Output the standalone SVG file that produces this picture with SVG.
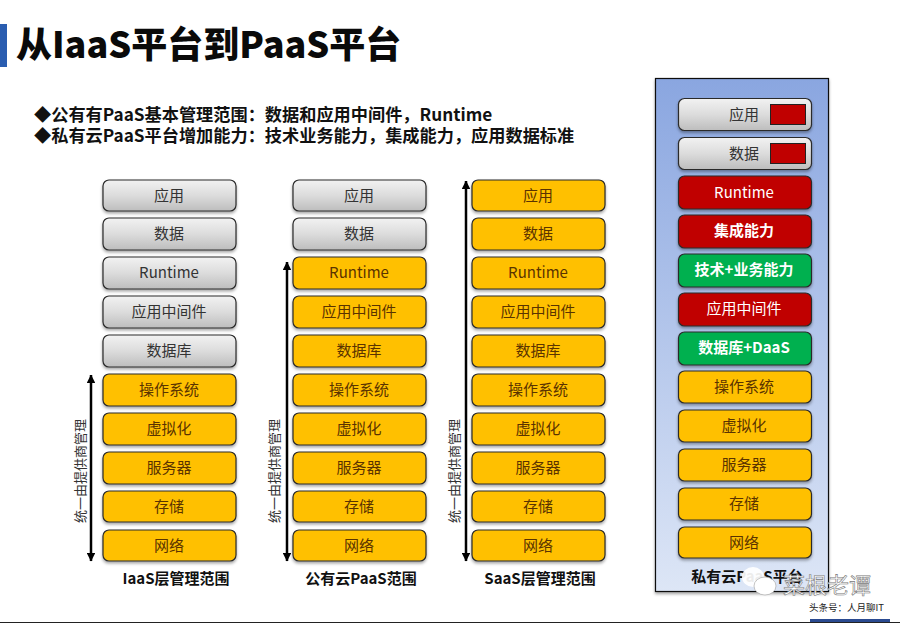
<svg xmlns="http://www.w3.org/2000/svg" width="900" height="623" viewBox="0 0 900 623">
<defs>
<linearGradient id="gGray" x1="0" y1="0" x2="0" y2="1"><stop offset="0" stop-color="#f2f2f2"/><stop offset="0.5" stop-color="#dcdcdc"/><stop offset="1" stop-color="#bdbdbd"/></linearGradient>
<linearGradient id="gPanel" x1="0" y1="0" x2="0" y2="1"><stop offset="0" stop-color="#8aa6e0"/><stop offset="1" stop-color="#dde6f6"/></linearGradient>
<filter id="sh" x="-10%" y="-10%" width="120%" height="130%"><feDropShadow dx="0" dy="2" stdDeviation="1.5" flood-color="#000" flood-opacity="0.35"/></filter>
<marker id="ah" markerWidth="3.4" markerHeight="3.4" refX="3.2" refY="1.7" orient="auto-start-reverse"><path d="M0 0L3.4 1.7L0 3.4Z" fill="#000"/></marker>
<style>
text{font-family:"Noto Sans CJK SC","Liberation Sans",sans-serif}
.b{stroke:#2a2a2a;stroke-width:1.2;filter:url(#sh)}
.o{fill:#ffc000}
.g{fill:url(#gGray)}
.r{fill:#c00000}
.v{fill:#00b050}
.t{font-size:15px;text-anchor:middle;fill:#333}
.to{fill:#5a3300}
.tw{fill:#fff}
.tb{font-weight:700}
.cap{font-size:15px;font-weight:700;text-anchor:middle;fill:#111}
.side{font-size:13px;text-anchor:middle;fill:#333}
.hd{font-size:17.2px;font-weight:700;fill:#111}
.sw{fill:#c00000;stroke:#222;stroke-width:1}
.ar{stroke:#000;stroke-width:2.5;fill:none;marker-start:url(#ah);marker-end:url(#ah)}
</style>
</defs>
<rect width="900" height="623" fill="#fff"/>
<rect id="title-bar" x="0" y="24" width="7" height="43" fill="#2a5db0"/>
<text id="title" x="16" y="58" font-size="36" font-weight="900" fill="#0a0a0a">从IaaS平台到PaaS平台</text>
<text class="hd" x="34" y="121">◆公有有PaaS基本管理范围：数据和应用中间件，Runtime</text>
<text class="hd" x="34" y="142">◆私有云PaaS平台增加能力：技术业务能力，集成能力，应用数据标准</text>

<g id="iaas">
<g id="i1"><rect class="b g" x="103" y="180" width="133" height="31" rx="6"/><text class="t" x="169" y="201">应用</text></g>
<g id="i2"><rect class="b g" x="103" y="218" width="133" height="32" rx="6"/><text class="t" x="169" y="239">数据</text></g>
<g id="i3"><rect class="b g" x="103" y="257" width="133" height="32" rx="6"/><text class="t" x="169" y="278">Runtime</text></g>
<g id="i4"><rect class="b g" x="103" y="296" width="133" height="32" rx="6"/><text class="t" x="169" y="317">应用中间件</text></g>
<g id="i5"><rect class="b g" x="103" y="335" width="133" height="32" rx="6"/><text class="t" x="169" y="356">数据库</text></g>
<g id="i6"><rect class="b o" x="103" y="374" width="133" height="32" rx="6"/><text class="t to" x="169" y="395">操作系统</text></g>
<g id="i7"><rect class="b o" x="103" y="413" width="133" height="32" rx="6"/><text class="t to" x="169" y="434">虚拟化</text></g>
<g id="i8"><rect class="b o" x="103" y="452" width="133" height="32" rx="6"/><text class="t to" x="169" y="473">服务器</text></g>
<g id="i9"><rect class="b o" x="103" y="491" width="133" height="31" rx="6"/><text class="t to" x="169" y="512">存储</text></g>
<g id="i10"><rect class="b o" x="103" y="530" width="133" height="31" rx="6"/><text class="t to" x="169" y="551">网络</text></g>
</g>
<g id="public">
<g id="p1"><rect class="b g" x="293" y="180" width="133" height="31" rx="6"/><text class="t" x="359" y="201">应用</text></g>
<g id="p2"><rect class="b g" x="293" y="218" width="133" height="32" rx="6"/><text class="t" x="359" y="239">数据</text></g>
<g id="p3"><rect class="b o" x="293" y="257" width="133" height="32" rx="6"/><text class="t to" x="359" y="278">Runtime</text></g>
<g id="p4"><rect class="b o" x="293" y="296" width="133" height="32" rx="6"/><text class="t to" x="359" y="317">应用中间件</text></g>
<g id="p5"><rect class="b o" x="293" y="335" width="133" height="32" rx="6"/><text class="t to" x="359" y="356">数据库</text></g>
<g id="p6"><rect class="b o" x="293" y="374" width="133" height="32" rx="6"/><text class="t to" x="359" y="395">操作系统</text></g>
<g id="p7"><rect class="b o" x="293" y="413" width="133" height="32" rx="6"/><text class="t to" x="359" y="434">虚拟化</text></g>
<g id="p8"><rect class="b o" x="293" y="452" width="133" height="32" rx="6"/><text class="t to" x="359" y="473">服务器</text></g>
<g id="p9"><rect class="b o" x="293" y="491" width="133" height="31" rx="6"/><text class="t to" x="359" y="512">存储</text></g>
<g id="p10"><rect class="b o" x="293" y="530" width="133" height="31" rx="6"/><text class="t to" x="359" y="551">网络</text></g>
</g>
<g id="saas">
<g id="s1"><rect class="b o" x="472" y="180" width="133" height="31" rx="6"/><text class="t to" x="538" y="201">应用</text></g>
<g id="s2"><rect class="b o" x="472" y="218" width="133" height="32" rx="6"/><text class="t to" x="538" y="239">数据</text></g>
<g id="s3"><rect class="b o" x="472" y="257" width="133" height="32" rx="6"/><text class="t to" x="538" y="278">Runtime</text></g>
<g id="s4"><rect class="b o" x="472" y="296" width="133" height="32" rx="6"/><text class="t to" x="538" y="317">应用中间件</text></g>
<g id="s5"><rect class="b o" x="472" y="335" width="133" height="32" rx="6"/><text class="t to" x="538" y="356">数据库</text></g>
<g id="s6"><rect class="b o" x="472" y="374" width="133" height="32" rx="6"/><text class="t to" x="538" y="395">操作系统</text></g>
<g id="s7"><rect class="b o" x="472" y="413" width="133" height="32" rx="6"/><text class="t to" x="538" y="434">虚拟化</text></g>
<g id="s8"><rect class="b o" x="472" y="452" width="133" height="32" rx="6"/><text class="t to" x="538" y="473">服务器</text></g>
<g id="s9"><rect class="b o" x="472" y="491" width="133" height="31" rx="6"/><text class="t to" x="538" y="512">存储</text></g>
<g id="s10"><rect class="b o" x="472" y="530" width="133" height="31" rx="6"/><text class="t to" x="538" y="551">网络</text></g>
</g>

<g id="connectors">
<line class="ar" x1="91" y1="375" x2="91" y2="561"/>
<line class="ar" x1="287" y1="262" x2="287" y2="561"/>
<line class="ar" x1="466" y1="181" x2="466" y2="561"/>
</g>
<text class="side" transform="translate(85,471) rotate(-90)">统一由提供商管理</text>
<text class="side" transform="translate(279,471) rotate(-90)">统一由提供商管理</text>
<text class="side" transform="translate(459,471) rotate(-90)">统一由提供商管理</text>
<text class="cap" x="176" y="584">IaaS层管理范围</text>
<text class="cap" x="361" y="584">公有云PaaS范围</text>
<text class="cap" x="540" y="584">SaaS层管理范围</text>

<g id="private">
<rect x="655.5" y="78.5" width="173" height="513" fill="url(#gPanel)" stroke="#111" stroke-width="1.2" filter="url(#sh)"/>
<g id="v1"><rect class="b g" x="678.5" y="98.5" width="133" height="32" rx="6"/><text class="t" x="744" y="120">应用</text><rect class="sw" x="770.5" y="104.5" width="35" height="20"/></g>
<g id="v2"><rect class="b g" x="678.5" y="137.5" width="133" height="32" rx="6"/><text class="t" x="744" y="159">数据</text><rect class="sw" x="770.5" y="143.5" width="35" height="20"/></g>
<g id="v3"><rect class="b r" x="678.5" y="176" width="133" height="33" rx="6"/><text class="t tw" x="744" y="198">Runtime</text></g>
<g id="v4"><rect class="b r" x="678.5" y="215" width="133" height="33" rx="6"/><text class="t tw tb" x="744" y="236">集成能力</text></g>
<g id="v5"><rect class="b v" x="678.5" y="254" width="133" height="33" rx="6"/><text class="t tw tb" x="744" y="275">技术+业务能力</text></g>
<g id="v6"><rect class="b r" x="678.5" y="293" width="133" height="33" rx="6"/><text class="t tw" x="744" y="314">应用中间件</text></g>
<g id="v7"><rect class="b v" x="678.5" y="332" width="133" height="33" rx="6"/><text class="t tw tb" x="744" y="353">数据库+DaaS</text></g>
<g id="v8"><rect class="b o" x="678.5" y="371" width="133" height="32" rx="6"/><text class="t to" x="744" y="392">操作系统</text></g>
<g id="v9"><rect class="b o" x="678.5" y="410" width="133" height="32" rx="6"/><text class="t to" x="744" y="431">虚拟化</text></g>
<g id="v10"><rect class="b o" x="678.5" y="449" width="133" height="32" rx="6"/><text class="t to" x="744" y="470">服务器</text></g>
<g id="v11"><rect class="b o" x="678.5" y="488" width="133" height="32" rx="6"/><text class="t to" x="744" y="509">存储</text></g>
<g id="v12"><rect class="b o" x="678.5" y="527" width="133" height="31" rx="6"/><text class="t to" x="744" y="548">网络</text></g>
<text class="cap" x="747" y="582">私有云PaaS平台</text>
</g>

<g id="watermark">
<ellipse cx="753" cy="577" rx="11" ry="10" fill="#fff" opacity="0.92"/>
<ellipse cx="765" cy="586" rx="11" ry="9" fill="#fff" stroke="#aaa" stroke-width="0.7"/>
<text x="783" y="593" font-size="22" fill="#fff" stroke="#777" stroke-width="0.6">菜根老谭</text>
</g>
<text x="809" y="611" font-size="9.5" fill="#222">头条号：人月聊IT</text>
<rect x="810" y="619" width="80" height="3" fill="#2a4a90"/>
<rect x="0" y="622" width="900" height="1" fill="#222"/>
</svg>
